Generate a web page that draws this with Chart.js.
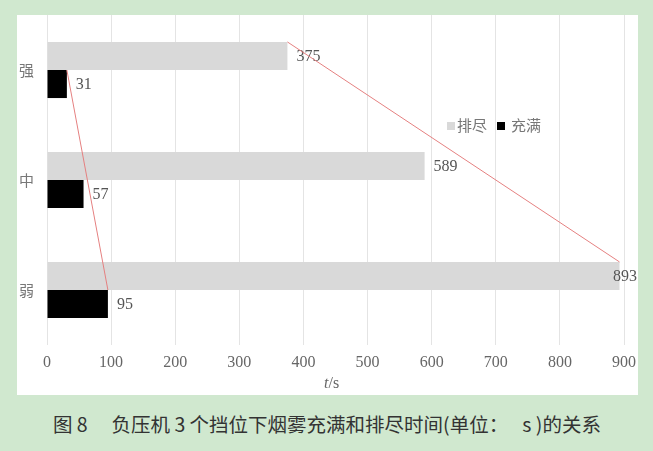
<!DOCTYPE html>
<html>
<head>
<meta charset="utf-8">
<script src="https://cdn.jsdelivr.net/npm/chart.js@4.4.1/dist/chart.umd.min.js"></script>
<style>
  html, body { margin: 0; padding: 0; }
  body { width: 653px; height: 451px; background: #d0e8cf; position: relative; overflow: hidden; }
  #panel { position: absolute; left: 17px; top: 15px; width: 621px; height: 380px; background: #ffffff; }
  #chart { position: absolute; left: 0; top: 0; }
  #axisTitle { position: absolute; left: 324px; top: 373px; font-family: "Liberation Serif", serif; font-size: 16px; color: #666; line-height: 20px; white-space: pre; }
  #legend { position: absolute; left: 447px; top: 116px; font-family: "Noto Sans CJK SC", sans-serif; font-size: 15px; color: #777; line-height: 18px; white-space: nowrap; }
  #legend .sw { display: inline-block; width: 8px; height: 8px; vertical-align: 1px; }
  #caption { position: absolute; left: 53px; top: 412px; font-family: "Noto Sans CJK SC", sans-serif; font-size: 19.5px; color: #333; line-height: 24px; white-space: pre; }
</style>
</head>
<body>
<div id="panel"><canvas id="chart" width="621" height="380"></canvas></div>
<div id="axisTitle"><i>t</i>/s</div>
<div id="legend"><span class="sw" style="background:#d9d9d9"></span><span style="margin-left:2px">排尽</span><span class="sw" style="background:#000;margin-left:10px"></span><span style="margin-left:6px">充满</span></div>
<div id="caption">图 8 　负压机 3 个挡位下烟雾充满和排尽时间(单位：　 s )的关系</div>
<script>
const categories = ['强', '中', '弱'];
const seriesNames = ['排尽', '充满'];
const drainTimes = [375, 589, 893];
const fillTimes = [31, 57, 95];
const xTicksMax = 900;
const xTickStep = 100;

const valueLabels = {
  id: 'valueLabels',
  afterDatasetsDraw(chart) {
    const ctx = chart.ctx;
    ctx.save();
    ctx.font = '16px "Liberation Serif", serif';
    ctx.fillStyle = '#555';
    ctx.textBaseline = 'middle';
    ctx.textAlign = 'left';
    chart.data.datasets.forEach((ds, di) => {
      const meta = chart.getDatasetMeta(di);
      meta.data.forEach((bar, i) => {
        const txt = String(ds.data[i]);
        const w = ctx.measureText(txt).width;
        let x = bar.x + 9;
        if (x + w > chart.width - 1) x = chart.width - 1 - w;
        ctx.fillText(txt, x, bar.y + 1);
      });
    });
    ctx.restore();
  }
};

const trendLines = {
  id: 'trendLines',
  afterDatasetsDraw(chart) {
    const ctx = chart.ctx;
    ctx.save();
    ctx.strokeStyle = '#e58080';
    ctx.lineWidth = 1;
    chart.data.datasets.forEach((ds, di) => {
      const els = chart.getDatasetMeta(di).data;
      const a = els[0], b = els[els.length - 1];
      ctx.beginPath();
      ctx.moveTo(a.x, a.y - a.height / 2);
      ctx.lineTo(b.x, b.y - b.height / 2);
      ctx.stroke();
    });
    ctx.restore();
  }
};

new Chart(document.getElementById('chart'), {
  type: 'bar',
  data: {
    labels: categories,
    datasets: [
      { label: seriesNames[0], data: drainTimes, backgroundColor: '#d9d9d9', categoryPercentage: 0.51, barPercentage: 1.0 },
      { label: seriesNames[1], data: fillTimes, backgroundColor: '#000000', categoryPercentage: 0.51, barPercentage: 1.0 }
    ]
  },
  options: {
    indexAxis: 'y',
    responsive: false,
    animation: false,
    devicePixelRatio: 1,
    layout: { padding: { left: 0, right: 14, top: 0, bottom: 0 } },
    plugins: { legend: { display: false }, tooltip: { enabled: false } },
    scales: {
      x: {
        min: 0, max: xTicksMax,
        ticks: { stepSize: xTickStep, color: '#666', font: { family: '"Liberation Serif", serif', size: 16 }, padding: 8 },
        grid: { color: '#e4e4e4', drawTicks: false },
        border: { display: false },
        afterFit(scale) { scale.height = 50; scale.paddingLeft = 0; scale.paddingRight = 0; }
      },
      y: {
        ticks: { color: '#777', font: { family: '"Noto Sans CJK SC", sans-serif', size: 15 }, padding: 13 },
        grid: { display: false, drawTicks: false },
        border: { display: false },
        afterFit(scale) { scale.width = 30; scale.paddingTop = 0; scale.paddingBottom = 0; }
      }
    }
  },
  plugins: [valueLabels, trendLines]
});
</script>
</body>
</html>
